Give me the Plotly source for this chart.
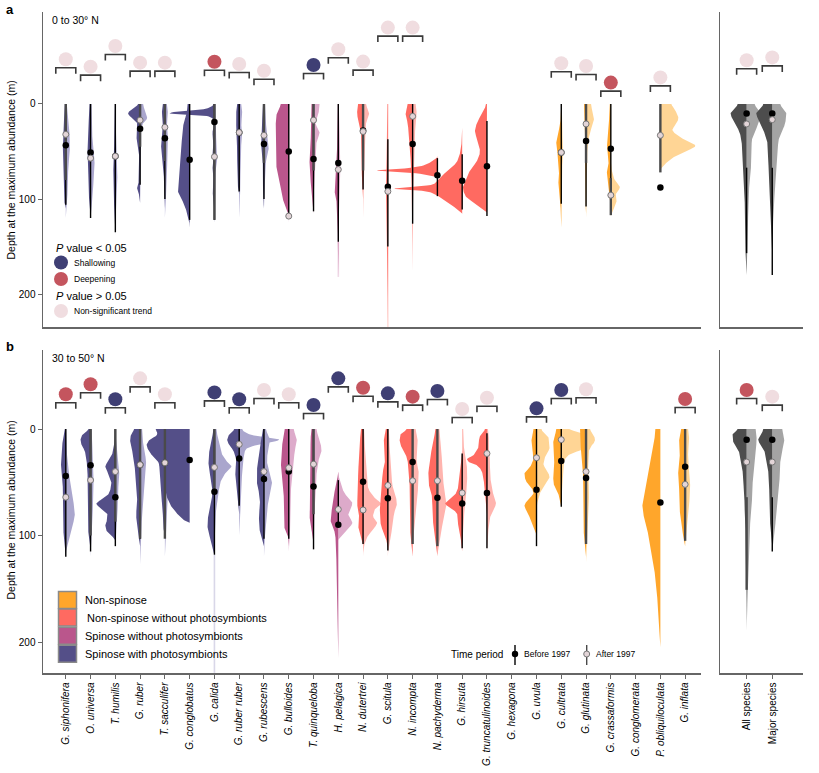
import numpy as np
import plotly.graph_objects as go

W, H = 819, 773
FONT = "Liberation Sans, Arial, sans-serif"

SPECIES = ["G. siphonifera", "O. universa", "T. humilis", "G. ruber", "T. sacculifer",
           "G. conglobatus", "G. calida", "G. ruber ruber", "G. rubescens", "G. bulloides",
           "T. quinqueloba", "H. pelagica", "N. dutertrei", "G. scitula", "N. incompta",
           "N. pachyderma", "G. hirsuta", "G. truncatulinoides", "G. hexagona", "G. uvula",
           "G. cultrata", "G. glutinata", "G. crassaformis", "G. conglomerata",
           "P. obliquiloculata", "G. inflata"]
GROUP = ["SP"] * 9 + ["SN"] * 3 + ["NN"] * 7 + ["NS"] * 7
SUMMARY = ["All species", "Major species"]

GROUP_NAMES = {"NS": "Non-spinose", "NN": "Non-spinose without photosymbionts",
               "SN": "Spinose without photosymbionts", "SP": "Spinose with photosymbionts"}
GROUP_COLORS = {"SP": ("#544F88", "#AAA6CD"), "SN": ("#BA568C", "#DDAACA"),
                "NN": ("#FF6A61", "#FFB4AE"), "NS": ("#FFA62B", "#FFD595"),
                "GR": ("#4D4D4D", "#A4A4A4")}
SIG_COLORS = {"S": "#3F3F74", "D": "#C4555E", "N": "#F0DDE0"}

# ---------------- panel a (0 to 30 N): half-violin profiles (depth m, density width) ----------
A_BEFORE = {
    "G. siphonifera": [(0, 1), (20, 2), (40, 3), (60, 2.5), (80, 2), (100, 2), (110, 0)],
    "O. universa": [(0, 1), (20, 2), (40, 3), (55, 3), (80, 2), (100, 1.5), (120, 0)],
    "T. humilis": [(0, 0.5), (40, 1), (60, 2), (80, 2), (100, 1.5), (135, 0)],
    "G. ruber": [(0, 2), (5, 8), (10, 12), (15, 8), (20, 3), (30, 4), (40, 3), (50, 1), (80, 1), (88, 3), (96, 1), (105, 0)],
    "T. sacculifer": [(0, 2), (10, 3), (20, 2), (30, 3), (40, 4), (60, 2), (80, 1), (100, 1), (110, 0)],
    "G. conglobatus": [(0, 2), (10, 3), (20, 6), (40, 8), (60, 9), (80, 11), (90, 12), (100, 8), (110, 4), (130, 0)],
    "G. calida": [(0, 1), (5, 8), (8, 38), (10, 45), (12, 10), (15, 2), (25, 1), (30, 2), (40, 1), (50, 2), (58, 1), (65, 2), (75, 1), (90, 2), (100, 1), (125, 0)],
    "G. ruber ruber": [(0, 2), (10, 3), (20, 3), (30, 3), (50, 2), (70, 2), (90, 1), (95, 0)],
    "G. rubescens": [(0, 1), (20, 2), (40, 3), (50, 2), (70, 1), (100, 1), (110, 0)],
    "G. bulloides": [(0, 8), (10, 12), (20, 13), (40, 13), (60, 13), (80, 9), (100, 6), (110, 2), (120, 0)],
    "T. quinqueloba": [(0, 2), (20, 2), (40, 3), (60, 4), (80, 3), (100, 1), (115, 0)],
    "H. pelagica": [(0, 0.5), (40, 1), (60, 2), (80, 3), (90, 4), (100, 2), (140, 0.5), (180, 0)],
    "N. dutertrei": [(0, 5), (10, 6), (20, 4), (30, 2), (50, 2), (80, 1), (100, 0)],
    "G. scitula": [(0, 0.5), (50, 1), (80, 2), (100, 1.5), (150, 1), (230, 0)],
    "N. incompta": [(0, 5), (10, 7), (20, 5), (30, 4), (40, 3), (50, 2), (70, 2), (80, 1), (100, 1), (130, 0.5), (175, 0)],
    "N. pachyderma": [(55, 0), (60, 5), (65, 15), (68, 35), (70, 61), (72, 30), (75, 8), (78, 0)],
    "G. hirsuta": [(25, 0), (45, 1), (55, 3), (62, 6), (70, 15), (78, 22), (85, 30), (89, 68), (92, 35), (97, 24), (103, 16), (110, 6), (116, 0)],
    "G. truncatulinoides": [(0, 1), (10, 5), (20, 10), (28, 12), (40, 9), (50, 7), (60, 10), (70, 17), (80, 21), (88, 24), (96, 22), (105, 12), (115, 0)],
    "G. cultrata": [(0, 0), (20, 1), (30, 3), (40, 5), (50, 4), (60, 3), (70, 2), (80, 3), (90, 2), (100, 1), (115, 0.5), (130, 0)],
    "G. glutinata": [(0, 2), (10, 2), (20, 2), (30, 1), (40, 1), (60, 1), (80, 1), (100, 1), (115, 0)],
    "G. crassaformis": [(0, 1), (20, 2), (40, 4), (50, 3), (60, 2), (70, 4), (80, 3), (90, 2), (100, 1), (110, 0)],
}
A_AFTER = {
    "G. siphonifera": [(0, 1), (20, 3), (40, 4), (50, 4), (60, 3), (80, 2), (100, 1.5), (120, 0)],
    "O. universa": [(0, 1), (40, 2), (60, 4), (80, 3), (100, 2), (120, 0)],
    "T. humilis": [(0, 0), (40, 1), (60, 2), (80, 2), (100, 1), (140, 0)],
    "G. ruber": [(0, 3), (10, 6), (15, 7), (20, 3), (30, 1), (50, 1), (100, 0)],
    "T. sacculifer": [(0, 2), (10, 3), (20, 2), (30, 3), (50, 3), (70, 2), (100, 1), (120, 0)],
    "G. calida": [(0, 1), (20, 1), (40, 2), (55, 3), (70, 1), (100, 1), (125, 0)],
    "G. ruber ruber": [(0, 2), (10, 3), (20, 2), (30, 3), (40, 2), (60, 2), (80, 1), (100, 1), (120, 0)],
    "G. rubescens": [(0, 1), (20, 2), (40, 4), (45, 5), (50, 4), (60, 2), (80, 1), (110, 0)],
    "G. bulloides": [(0, 0.5), (60, 1), (110, 1), (125, 0)],
    "T. quinqueloba": [(0, 6), (10, 5), (20, 2), (30, 6), (40, 3), (60, 2), (80, 1), (100, 0)],
    "H. pelagica": [(0, 0.5), (60, 2), (80, 2), (100, 1), (170, 0)],
    "N. dutertrei": [(0, 3), (10, 6), (20, 3), (40, 2), (60, 1), (100, 0.5), (120, 0)],
    "G. scitula": [(0, 0.5), (80, 1), (150, 0.5), (235, 0)],
    "N. incompta": [(0, 3), (10, 4), (20, 3), (40, 2), (80, 1), (120, 0)],
    "G. cultrata": [(0, 0.5), (30, 1), (50, 2), (60, 1), (80, 1), (100, 1), (130, 0)],
    "G. glutinata": [(0, 5), (10, 7), (15, 8), (20, 7), (30, 4), (40, 2), (60, 1), (80, 1), (100, 1), (120, 0)],
    "G. crassaformis": [(60, 0), (75, 2), (80, 4), (88, 9), (95, 5), (100, 6), (110, 3), (118, 0)],
    "P. obliquiloculata": [(0, 11), (5, 14), (15, 18), (22, 15), (27, 12), (35, 20), (44, 35), (50, 25), (55, 15), (62, 6), (70, 0)],
}
A_SUM_BEFORE = {
    "All species": [(0, 9), (10, 16), (20, 12), (30, 7), (40, 5), (60, 4), (80, 3), (100, 2), (140, 1.5), (160, 1), (180, 0)],
    "Major species": [(0, 9), (10, 16), (20, 12), (30, 8), (40, 5), (60, 4), (80, 3), (100, 2), (120, 1.5), (140, 0.5), (160, 0)],
}
A_SUM_AFTER = {
    "All species": [(0, 8), (10, 14), (20, 12), (30, 8), (40, 5), (60, 5), (70, 4), (80, 3), (100, 2), (140, 1), (180, 0)],
    "Major species": [(0, 8), (10, 14), (20, 13), (30, 9), (40, 6), (60, 5), (80, 4), (100, 2), (120, 1), (160, 0)],
}
A_MED_BEFORE = {"G. siphonifera": 43.5, "O. universa": 51, "T. humilis": 55, "G. ruber": 26, "T. sacculifer": 36,
                "G. conglobatus": 58.6, "G. calida": 19, "G. ruber ruber": 30, "G. rubescens": 42, "G. bulloides": 50,
                "T. quinqueloba": 58, "H. pelagica": 62, "N. dutertrei": 28, "G. scitula": 87, "N. incompta": 42,
                "N. pachyderma": 75, "G. hirsuta": 80.7, "G. truncatulinoides": 65.6, "G. cultrata": 51,
                "G. glutinata": 39, "G. crassaformis": 47, "P. obliquiloculata": 88,
                "All species": 10, "Major species": 10}
A_MED_AFTER = {"G. siphonifera": 32, "O. universa": 57, "T. humilis": 55, "G. ruber": 17, "T. sacculifer": 24.5,
               "G. calida": 55.5, "G. ruber ruber": 30, "G. rubescens": 33, "G. bulloides": 118,
               "T. quinqueloba": 17, "H. pelagica": 69, "N. dutertrei": 29, "G. scitula": 92, "N. incompta": 13,
               "G. cultrata": 51, "G. glutinata": 21, "G. crassaformis": 96, "P. obliquiloculata": 33,
               "All species": 21, "Major species": 16.5}
A_LINE_BEFORE = {"G. siphonifera": (0, 106), "O. universa": (0, 120), "T. humilis": (0, 135), "G. ruber": (0, 85),
                 "T. sacculifer": (0, 100), "G. conglobatus": (0, 122), "G. calida": (0, 122),
                 "G. ruber ruber": (0, 92), "G. rubescens": (0, 100), "G. bulloides": (0, 115),
                 "T. quinqueloba": (0, 113), "H. pelagica": (0, 145), "N. dutertrei": (0, 90),
                 "G. scitula": (37, 150), "N. incompta": (0, 126), "N. pachyderma": (57, 97),
                 "G. hirsuta": (53, 111), "G. truncatulinoides": (18, 118), "G. cultrata": (0, 105),
                 "G. glutinata": (0, 108), "G. crassaformis": (0, 80),
                 "All species": (67, 157), "Major species": (67, 180)}
A_LINE_AFTER = {"G. siphonifera": (0, 80), "G. ruber": (0, 45), "T. sacculifer": (0, 60), "G. calida": (0, 122),
                "G. rubescens": (0, 62), "T. quinqueloba": (0, 70), "N. dutertrei": (0, 70),
                "G. glutinata": (0, 62), "G. crassaformis": (78, 117), "P. obliquiloculata": (0, 72)}
A_TAIL = {"G. scitula": (150, 235), "H. pelagica": (145, 182)}
A_SIG = {"G. siphonifera": "N", "O. universa": "N", "T. humilis": "N", "G. ruber": "N", "T. sacculifer": "N",
         "G. calida": "D", "G. ruber ruber": "N", "G. rubescens": "N", "T. quinqueloba": "S", "H. pelagica": "N",
         "N. dutertrei": "N", "G. scitula": "N", "N. incompta": "N", "G. cultrata": "N", "G. glutinata": "N",
         "G. crassaformis": "D", "P. obliquiloculata": "N", "All species": "N", "Major species": "N"}
A_SIG_Y = {"G. siphonifera": -47, "O. universa": -39.3, "T. humilis": -61, "G. ruber": -43.5, "T. sacculifer": -43.5,
           "G. calida": -44.5, "G. ruber ruber": -42, "G. rubescens": -35, "T. quinqueloba": -41, "H. pelagica": -57.6,
           "N. dutertrei": -44.6, "G. scitula": -80.4, "N. incompta": -80.4, "G. cultrata": -42.8,
           "G. glutinata": -40, "G. crassaformis": -22.5, "P. obliquiloculata": -28,
           "All species": -46, "Major species": -49}

# ---------------- panel b (30 to 50 N) ----------------
B_BEFORE = {
    "G. siphonifera": [(0, 1), (10, 3), (20, 4), (30, 5), (40, 4), (50, 3), (60, 3), (80, 3), (90, 3), (100, 2), (110, 1), (120, 0)],
    "O. universa": [(0, 2), (5, 8), (10, 10), (15, 9), (20, 6), (30, 4), (40, 3), (60, 3), (80, 3), (100, 2), (115, 0)],
    "T. humilis": [(0, 0), (20, 2), (30, 7), (35, 10), (40, 8), (50, 4), (60, 6), (65, 12), (70, 19), (75, 14), (80, 8), (85, 8), (90, 10), (95, 9), (100, 4), (105, 0)],
    "G. ruber": [(0, 6), (5, 9), (10, 10), (20, 8), (30, 6), (40, 5), (50, 4), (60, 3), (70, 3), (80, 4), (90, 3), (100, 2), (110, 0)],
    "T. sacculifer": [(0, 6), (10, 10), (20, 8), (30, 6), (40, 5), (60, 4), (80, 2), (90, 2), (100, 0)],
    "G. conglobatus": [(0, 34), (5, 32), (10, 40), (15, 43), (22, 40), (30, 32), (40, 28), (50, 26), (60, 24), (70, 20), (80, 12), (86, 5), (88, 0)],
    "G. calida": [(0, 1), (10, 3), (20, 5), (30, 6), (40, 5), (50, 3), (60, 2), (70, 4), (80, 6), (90, 7), (100, 5), (110, 2), (120, 0)],
    "G. ruber ruber": [(0, 5), (5, 10), (10, 12), (15, 10), (20, 6), (30, 3), (40, 4), (50, 3), (60, 2), (70, 1), (80, 0)],
    "G. rubescens": [(0, 1), (10, 3), (20, 4), (30, 6), (40, 7), (50, 7), (60, 5), (70, 4), (80, 5), (90, 5), (100, 3), (110, 0)],
    "G. bulloides": [(0, 4), (10, 6), (20, 7), (30, 8), (40, 7), (50, 6), (60, 5), (70, 5), (80, 5), (90, 5), (100, 1), (110, 0)],
    "T. quinqueloba": [(0, 2), (10, 3), (20, 3), (30, 3), (40, 3), (50, 3), (60, 3), (70, 3), (80, 4), (90, 3), (100, 1), (110, 0)],
    "H. pelagica": [(40, 0), (50, 2), (60, 4), (70, 6), (80, 7), (85, 8), (90, 6), (100, 3), (120, 2), (150, 1.5), (180, 1), (215, 0)],
    "N. dutertrei": [(0, 2), (10, 3), (20, 3), (30, 4), (40, 5), (50, 5), (60, 5), (70, 6), (80, 4), (90, 5), (100, 2), (110, 0)],
    "G. scitula": [(0, 2), (10, 4), (20, 3), (30, 3), (40, 5), (50, 6), (60, 7), (70, 8), (80, 8), (90, 7), (100, 3), (112, 0)],
    "N. incompta": [(0, 6), (5, 12), (10, 13), (15, 12), (20, 9), (30, 5), (40, 4), (50, 3), (70, 3), (90, 3), (100, 2), (110, 1), (120, 0)],
    "N. pachyderma": [(0, 2), (10, 4), (20, 6), (30, 7), (40, 9), (50, 9), (60, 6), (70, 5), (80, 5), (90, 4), (100, 2), (110, 1), (120, 0)],
    "G. hirsuta": [(20, 0), (30, 1), (40, 2), (50, 3), (60, 6), (65, 12), (70, 17), (75, 10), (80, 5), (90, 4), (100, 2), (115, 0)],
    "G. truncatulinoides": [(0, 2), (5, 6), (10, 8), (15, 8), (20, 10), (25, 14), (28, 20), (31, 18), (34, 10), (40, 5), (50, 3), (60, 2), (70, 1), (80, 0)],
    "G. uvula": [(0, 3), (10, 5), (20, 4), (27, 3), (35, 6), (42, 12), (48, 11), (55, 5), (60, 3), (66, 8), (72, 12), (80, 8), (88, 5), (95, 2), (100, 0)],
    "G. cultrata": [(0, 5), (12, 8), (20, 7), (30, 7), (40, 8), (50, 8), (58, 4), (64, 2), (75, 0)],
    "G. glutinata": [(0, 6), (10, 6), (20, 5), (30, 4), (40, 3), (60, 3), (80, 3), (90, 3), (100, 2), (110, 1), (120, 0)],
    "P. obliquiloculata": [(0, 5), (10, 6), (20, 8), (30, 10), (40, 12), (50, 14), (60, 16), (70, 18), (80, 17), (90, 14), (100, 12), (120, 8), (140, 5), (160, 3), (180, 2), (200, 0.5), (205, 0)],
    "G. inflata": [(0, 4), (10, 6), (20, 5), (30, 6), (40, 7), (50, 6), (60, 6), (70, 6), (80, 5), (90, 4), (100, 2), (110, 0)],
}
B_AFTER = {
    "G. siphonifera": [(0, 0.5), (20, 1), (40, 3), (60, 6), (80, 9), (90, 7), (100, 4), (110, 1), (120, 0)],
    "O. universa": [(0, 1), (20, 2), (40, 3), (60, 3), (80, 2), (100, 1), (120, 0)],
    "T. humilis": [(0, 0), (20, 2), (40, 4), (50, 3), (60, 3), (80, 2), (100, 1), (110, 0)],
    "G. ruber": [(0, 2), (20, 4), (30, 6), (40, 5), (50, 4), (60, 3), (80, 2), (100, 1), (130, 0)],
    "T. sacculifer": [(0, 6), (5, 8), (10, 5), (20, 4), (30, 4), (40, 4), (60, 3), (80, 2), (100, 1), (120, 0)],
    "G. calida": [(0, 2), (10, 4), (20, 6), (30, 12), (35, 17), (40, 12), (50, 6), (60, 4), (70, 2), (90, 1), (110, 0)],
    "G. ruber ruber": [(0, 3), (5, 10), (10, 40), (13, 30), (17, 10), (20, 6), (30, 4), (40, 3), (60, 2), (80, 1), (100, 0)],
    "G. rubescens": [(0, 2), (10, 6), (20, 4), (30, 3), (40, 6), (50, 8), (60, 6), (70, 4), (80, 3), (90, 2), (100, 1), (120, 0)],
    "G. bulloides": [(0, 5), (10, 8), (20, 6), (30, 5), (40, 4), (50, 3), (60, 2), (80, 2), (100, 1), (115, 0)],
    "T. quinqueloba": [(0, 3), (10, 6), (20, 8), (25, 6), (30, 5), (40, 3), (50, 3), (60, 2), (80, 1), (100, 1), (110, 0)],
    "H. pelagica": [(40, 0), (50, 2), (60, 6), (70, 14), (75, 12), (80, 10), (88, 14), (95, 8), (100, 3), (105, 0)],
    "N. dutertrei": [(0, 1), (20, 2), (40, 3), (55, 5), (65, 12), (70, 18), (75, 12), (82, 10), (88, 14), (92, 12), (100, 5), (110, 1), (120, 0)],
    "G. scitula": [(0, 1), (20, 2), (40, 4), (50, 4), (60, 7), (70, 9), (80, 6), (90, 5), (100, 3), (110, 1), (120, 0)],
    "N. incompta": [(0, 3), (10, 5), (20, 4), (30, 4), (40, 6), (50, 6), (60, 5), (70, 4), (80, 3), (90, 2), (100, 1), (115, 0)],
    "N. pachyderma": [(0, 2), (20, 4), (40, 5), (50, 6), (60, 7), (70, 9), (80, 7), (90, 5), (100, 3), (110, 1), (120, 0)],
    "G. hirsuta": [(0, 1), (20, 2), (30, 4), (40, 5), (50, 5), (60, 4), (70, 3), (80, 2), (100, 1), (110, 0)],
    "G. truncatulinoides": [(0, 1), (10, 2), (20, 2), (30, 3), (40, 3), (50, 4), (60, 6), (65, 8), (70, 9), (75, 7), (80, 4), (90, 2), (100, 1), (115, 0)],
    "G. uvula": [(0, 5), (8, 12), (18, 13), (25, 9), (33, 7), (40, 11), (45, 13), (50, 10), (57, 5), (65, 2), (75, 0)],
    "G. cultrata": [(0, 8), (3, 18), (12, 33), (18, 25), (24, 8), (30, 3), (40, 2), (55, 1), (70, 0)],
    "G. glutinata": [(0, 4), (5, 7), (10, 9), (15, 6), (20, 3), (40, 2), (60, 3), (80, 2), (100, 1), (125, 0)],
    "G. inflata": [(0, 3), (10, 4), (20, 3), (30, 3), (40, 4), (50, 5), (60, 5), (70, 4), (80, 3), (90, 2), (100, 1), (110, 0)],
}
B_SUM_BEFORE = {
    "All species": [(0, 9), (5, 14), (10, 14), (20, 8), (30, 6), (40, 4), (50, 3), (60, 3), (70, 2), (80, 2), (100, 1), (140, 1), (150, 0.5), (180, 0)],
    "Major species": [(0, 9), (10, 14), (20, 8), (30, 6), (40, 4), (60, 3), (80, 3), (90, 2), (100, 1), (110, 0)],
}
B_SUM_AFTER = {
    "All species": [(0, 9), (10, 10), (20, 9), (30, 8), (40, 7), (50, 6), (60, 6), (70, 5), (80, 4), (100, 3), (120, 2), (140, 1), (180, 0.5), (190, 0)],
    "Major species": [(0, 10), (10, 12), (20, 10), (30, 8), (40, 8), (50, 7), (60, 6), (80, 4), (100, 2), (110, 0.5), (115, 0)],
}
B_MED_BEFORE = {"G. siphonifera": 44, "O. universa": 34, "T. humilis": 64, "G. ruber": 33.5, "T. sacculifer": 31.7,
                "G. conglobatus": 29, "G. calida": 59, "G. ruber ruber": 27.6, "G. rubescens": 47, "G. bulloides": 40,
                "T. quinqueloba": 54, "H. pelagica": 90, "N. dutertrei": 49.5, "G. scitula": 65, "N. incompta": 31,
                "N. pachyderma": 64.5, "G. hirsuta": 70, "G. truncatulinoides": 60, "G. uvula": 57, "G. cultrata": 30,
                "G. glutinata": 46, "P. obliquiloculata": 69, "G. inflata": 35.4,
                "All species": 10, "Major species": 10}
B_MED_AFTER = {"G. siphonifera": 64, "O. universa": 48, "T. humilis": 40, "G. ruber": 33.5, "T. sacculifer": 31.7,
               "G. calida": 36, "G. ruber ruber": 14.4, "G. rubescens": 40, "G. bulloides": 36.4,
               "T. quinqueloba": 33, "H. pelagica": 75.5, "N. dutertrei": 76, "G. scitula": 53, "N. incompta": 48.6,
               "N. pachyderma": 48.6, "G. hirsuta": 60, "G. truncatulinoides": 23, "G. uvula": 27, "G. cultrata": 10,
               "G. glutinata": 40, "G. inflata": 52, "All species": 31, "Major species": 31}
B_LINE_BEFORE = {"G. siphonifera": (0, 120), "O. universa": (0, 115), "T. humilis": (0, 110), "G. ruber": (0, 103),
                 "G. calida": (0, 118), "G. ruber ruber": (0, 72), "G. rubescens": (0, 103),
                 "G. bulloides": (0, 103), "T. quinqueloba": (0, 113), "H. pelagica": (48, 90),
                 "N. dutertrei": (0, 108), "G. scitula": (0, 114), "G. hirsuta": (23, 112),
                 "G. truncatulinoides": (4, 112), "G. uvula": (0, 110), "G. cultrata": (0, 73),
                 "Major species": (64, 115)}
B_LINE_AFTER = {"O. universa": (0, 100), "T. humilis": (0, 87), "G. ruber": (0, 103), "T. sacculifer": (0, 103),
                "G. calida": (0, 57), "T. quinqueloba": (0, 80), "N. incompta": (0, 108),
                "N. pachyderma": (0, 110), "G. glutinata": (0, 108), "G. inflata": (0, 105),
                "All species": (64, 151)}
B_TAIL = {"G. calida": (118, 229)}
B_SIG = {"G. siphonifera": "D", "O. universa": "D", "T. humilis": "S", "G. ruber": "N", "T. sacculifer": "N",
         "G. calida": "S", "G. ruber ruber": "S", "G. rubescens": "N", "G. bulloides": "N", "T. quinqueloba": "S",
         "H. pelagica": "S", "N. dutertrei": "D", "G. scitula": "S", "N. incompta": "D", "N. pachyderma": "S",
         "G. hirsuta": "N", "G. truncatulinoides": "N", "G. uvula": "S", "G. cultrata": "S", "G. glutinata": "N",
         "G. inflata": "D", "All species": "D", "Major species": "N"}
B_SIG_Y = {"G. siphonifera": -32.6, "O. universa": -42, "T. humilis": -28, "G. ruber": -47.6, "T. sacculifer": -32.6,
           "G. calida": -34.4, "G. ruber ruber": -28, "G. rubescens": -36.6, "G. bulloides": -32.6,
           "T. quinqueloba": -22.5, "H. pelagica": -47.6, "N. dutertrei": -38.8, "G. scitula": -33.5,
           "N. incompta": -30.4, "N. pachyderma": -35.7, "G. hirsuta": -18.8, "G. truncatulinoides": -29.4,
           "G. uvula": -19.4, "G. cultrata": -36.6, "G. glutinata": -37.3, "G. inflata": -28.2,
           "All species": -36.6, "Major species": -30.4}

# ---------------- layout geometry (window pixels) ----------------
LEFT_X = (43, 701)
RIGHT_X = (720, 803)
TOP_Y = (12, 327)
BOT_Y = (350, 673)
LEFT_RANGE = (-0.92, 25.64)
RIGHT_RANGE = (-1.04, 2.2)
TOP_RANGE = (234.7, -96.8)
BOT_RANGE = (229.1, -74.2)


def px(x):
    return x / W


def py(y):
    return 1 - y / H


def pchip(xk, yk, xn):
    xk = np.asarray(xk, float)
    yk = np.asarray(yk, float)
    n = len(xk)
    h = np.diff(xk)
    delta = np.diff(yk) / h
    m = np.zeros(n)
    for k in range(1, n - 1):
        if delta[k - 1] * delta[k] > 0:
            w1 = 2 * h[k] + h[k - 1]
            w2 = h[k] + 2 * h[k - 1]
            m[k] = (w1 + w2) / (w1 / delta[k - 1] + w2 / delta[k])
    idx = np.clip(np.searchsorted(xk, xn, side="right") - 1, 0, n - 2)
    t = (xn - xk[idx]) / h[idx]
    h00 = 2 * t ** 3 - 3 * t ** 2 + 1
    h10 = t ** 3 - 2 * t ** 2 + t
    h01 = -2 * t ** 3 + 3 * t ** 2
    h11 = t ** 3 - t ** 2
    return (h00 * yk[idx] + h10 * h[idx] * m[idx] + h01 * yk[idx + 1] + h11 * h[idx] * m[idx + 1])


fig = go.Figure()

AX = {
    "TL": ("x", "y", LEFT_X, LEFT_RANGE),
    "TR": ("x2", "y2", RIGHT_X, RIGHT_RANGE),
    "BL": ("x3", "y3", LEFT_X, LEFT_RANGE),
    "BR": ("x4", "y4", RIGHT_X, RIGHT_RANGE),
}


def unit_of(key):
    _, _, xp, xr = AX[key]
    return (xr[1] - xr[0]) / (xp[1] - xp[0])


def add_half(key, center, prof, side, color):
    xa, ya, _, _ = AX[key]
    u = unit_of(key)
    d = np.array([p[0] for p in prof], float)
    w = np.array([p[1] for p in prof], float)
    dn = np.linspace(d[0], d[-1], max(int((d[-1] - d[0]) * 2), 4))
    wn = np.clip(pchip(d, w, dn), 0, None)
    xs = list(center + side * wn * u) + [center, center]
    ys = list(dn) + [dn[-1], dn[0]]
    fig.add_trace(go.Scatter(x=xs, y=ys, mode="lines", fill="toself", fillcolor=color,
                             line=dict(width=0, color=color), xaxis=xa, yaxis=ya,
                             hoverinfo="skip", showlegend=False))


def draw_panel(key, names, before, after, colkeys, tails):
    xa, ya, _, _ = AX[key]
    for i, nm in enumerate(names):
        if nm in tails:
            fig.add_trace(go.Scatter(x=[i, i], y=list(tails[nm]), mode="lines",
                                     line=dict(color=GROUP_COLORS[colkeys[i]][1], width=1.6), opacity=0.45,
                                     xaxis=xa, yaxis=ya, hoverinfo="skip", showlegend=False))
    for i, nm in enumerate(names):
        if nm in after:
            add_half(key, i, after[nm], 1, GROUP_COLORS[colkeys[i]][1])
    for i, nm in enumerate(names):
        if nm in before:
            add_half(key, i, before[nm], -1, GROUP_COLORS[colkeys[i]][0])


def draw_lines_meds(key, names, lb, la, mb, ma, sig, sigy, pxm):
    xa, ya, _, _ = AX[key]
    u = unit_of(key)
    for i, nm in enumerate(names):
        if nm in lb:
            fig.add_trace(go.Scatter(x=[i, i], y=list(lb[nm]), mode="lines", line=dict(color="black", width=1.4),
                                     xaxis=xa, yaxis=ya, hoverinfo="skip", showlegend=False))
        if nm in la:
            fig.add_trace(go.Scatter(x=[i, i], y=list(la[nm]), mode="lines", line=dict(color="#4A4A4A", width=2.4),
                                     xaxis=xa, yaxis=ya, hoverinfo="skip", showlegend=False))
    xb = [i for i, nm in enumerate(names) if nm in mb]
    fig.add_trace(go.Scatter(x=xb, y=[mb[names[i]] for i in xb], mode="markers",
                             marker=dict(color="black", size=6.5), xaxis=xa, yaxis=ya,
                             hoverinfo="skip", showlegend=False))
    xaa = [i for i, nm in enumerate(names) if nm in ma]
    fig.add_trace(go.Scatter(x=xaa, y=[ma[names[i]] for i in xaa], mode="markers",
                             marker=dict(color="#E3D5D8", size=6, line=dict(color="#777777", width=1)),
                             xaxis=xa, yaxis=ya, hoverinfo="skip", showlegend=False))
    bx, by = [], []
    half_w = 10 * u
    for i, nm in enumerate(names):
        if nm in sig:
            top = sigy[nm] + 8.5 / pxm
            leg = 6 / pxm
            bx += [i - half_w, i - half_w, i + half_w, i + half_w, None]
            by += [top + leg, top, top, top + leg, None]
    fig.add_trace(go.Scatter(x=bx, y=by, mode="lines", line=dict(color="#3A3A3A", width=1.6),
                             xaxis=xa, yaxis=ya, hoverinfo="skip", showlegend=False))
    for code in ["S", "D", "N"]:
        xi = [i for i, nm in enumerate(names) if sig.get(nm) == code]
        fig.add_trace(go.Scatter(x=xi, y=[sigy[names[i]] for i in xi], mode="markers",
                                 marker=dict(color=SIG_COLORS[code], size=14), xaxis=xa, yaxis=ya,
                                 hoverinfo="skip", showlegend=False))


TOP_PXM = (TOP_Y[1] - TOP_Y[0]) / (TOP_RANGE[0] - TOP_RANGE[1])
BOT_PXM = (BOT_Y[1] - BOT_Y[0]) / (BOT_RANGE[0] - BOT_RANGE[1])

draw_panel("TL", SPECIES, A_BEFORE, A_AFTER, GROUP, A_TAIL)
draw_lines_meds("TL", SPECIES, A_LINE_BEFORE, A_LINE_AFTER, A_MED_BEFORE, A_MED_AFTER, A_SIG, A_SIG_Y, TOP_PXM)
draw_panel("TR", SUMMARY, A_SUM_BEFORE, A_SUM_AFTER, ["GR", "GR"], {})
draw_lines_meds("TR", SUMMARY, A_LINE_BEFORE, A_LINE_AFTER, A_MED_BEFORE, A_MED_AFTER, A_SIG, A_SIG_Y, TOP_PXM)
draw_panel("BL", SPECIES, B_BEFORE, B_AFTER, GROUP, B_TAIL)
draw_lines_meds("BL", SPECIES, B_LINE_BEFORE, B_LINE_AFTER, B_MED_BEFORE, B_MED_AFTER, B_SIG, B_SIG_Y, BOT_PXM)
draw_panel("BR", SUMMARY, B_SUM_BEFORE, B_SUM_AFTER, ["GR", "GR"], {})
draw_lines_meds("BR", SUMMARY, B_LINE_BEFORE, B_LINE_AFTER, B_MED_BEFORE, B_MED_AFTER, B_SIG, B_SIG_Y, BOT_PXM)

axline = dict(showline=True, linecolor="#666666", linewidth=1.5, showgrid=False, zeroline=False)
tickfont = dict(family=FONT, size=10, color="black")


def xdom(p):
    return [px(p[0]), px(p[1])]


def ydom(p):
    return [py(p[1]), py(p[0])]


fig.update_layout(
    width=W, height=H, margin=dict(l=0, r=0, t=0, b=0),
    paper_bgcolor="white", plot_bgcolor="white", font=dict(family=FONT, size=10, color="black"),
    showlegend=False, hovermode=False,
    xaxis=dict(domain=xdom(LEFT_X), range=list(LEFT_RANGE), anchor="y", showticklabels=False, ticks="", **axline),
    yaxis=dict(domain=ydom(TOP_Y), range=list(TOP_RANGE), anchor="x", tickvals=[0, 100, 200], ticks="outside",
               ticklen=4, tickcolor="#666666", tickfont=tickfont, **axline),
    xaxis2=dict(domain=xdom(RIGHT_X), range=list(RIGHT_RANGE), anchor="y2", showticklabels=False, ticks="", **axline),
    yaxis2=dict(domain=ydom(TOP_Y), range=list(TOP_RANGE), anchor="x2", showticklabels=False, ticks="", **axline),
    xaxis3=dict(domain=xdom(LEFT_X), range=list(LEFT_RANGE), anchor="y3", tickvals=list(range(len(SPECIES))),
                ticktext=["<i>%s</i>" % s for s in SPECIES], tickangle=-90, ticks="outside", ticklen=4,
                tickcolor="#666666", tickfont=tickfont, **axline),
    yaxis3=dict(domain=ydom(BOT_Y), range=list(BOT_RANGE), anchor="x3", tickvals=[0, 100, 200], ticks="outside",
                ticklen=4, tickcolor="#666666", tickfont=tickfont, **axline),
    xaxis4=dict(domain=xdom(RIGHT_X), range=list(RIGHT_RANGE), anchor="y4", tickvals=[0, 1], ticktext=SUMMARY,
                tickangle=-90, ticks="outside", ticklen=4, tickcolor="#666666", tickfont=tickfont, **axline),
    yaxis4=dict(domain=ydom(BOT_Y), range=list(BOT_RANGE), anchor="x4", showticklabels=False, ticks="", **axline),
)

ann = []
shapes = []


def text(x, y, s, size=10, xanchor="left", angle=0, bold=False):
    ann.append(dict(x=px(x), y=py(y), xref="paper", yref="paper", text=("<b>%s</b>" % s) if bold else s,
                    showarrow=False, xanchor=xanchor, yanchor="middle", textangle=angle,
                    font=dict(family=FONT, size=size, color="black")))


def circle(x, y, r, color, line=None):
    shapes.append(dict(type="circle", xref="paper", yref="paper", x0=px(x - r), x1=px(x + r),
                       y0=py(y + r), y1=py(y - r), fillcolor=color,
                       line=dict(width=1 if line else 0, color=line or color)))


text(4, 10, "a", 13, bold=True)
text(4, 346, "b", 13, bold=True)
text(50, 20, "0 to 30° N", 10.5)
text(50, 358, "30 to 50° N", 10.5)
text(10.5, 170, "Depth at the maximum abundance (m)", 10.5, xanchor="center", angle=-90)
text(10.5, 510, "Depth at the maximum abundance (m)", 10.5, xanchor="center", angle=-90)

text(54, 248, "<i>P</i> value < 0.05", 11)
circle(61, 262.5, 7, SIG_COLORS["S"])
text(72, 262.5, "Shallowing", 8.5)
circle(61, 279, 7, SIG_COLORS["D"])
text(72, 279, "Deepening", 8.5)
text(54, 296, "<i>P</i> value > 0.05", 11)
circle(61, 311, 7, SIG_COLORS["N"])
text(72, 311, "Non-significant trend", 8.5)

for code, yc in [("NS", 600), ("NN", 617.5), ("SN", 635.8), ("SP", 653.8)]:
    shapes.append(dict(type="rect", xref="paper", yref="paper", x0=px(58.5), x1=px(76.5),
                       y0=py(yc + 8.5), y1=py(yc - 8.5), fillcolor=GROUP_COLORS[code][0],
                       line=dict(color="#8A8A8A", width=1.5)))
    text(83 if code != "NN" else 84.5, yc, GROUP_NAMES[code], 11)

text(505, 654, "Time period", 10, xanchor="right")
shapes.append(dict(type="line", xref="paper", yref="paper", x0=px(515), x1=px(515), y0=py(645), y1=py(665),
                   line=dict(color="black", width=1.4)))
circle(515, 654, 3.2, "black")
text(522, 654, "Before 1997", 8.5)
shapes.append(dict(type="line", xref="paper", yref="paper", x0=px(586.7), x1=px(586.7), y0=py(645), y1=py(665),
                   line=dict(color="#4A4A4A", width=1.4)))
circle(586.7, 654, 3, "#E3D5D8", "#777777")
text(594, 654, "After 1997", 8.5)

fig.update_layout(annotations=ann, shapes=shapes)
fig.write_html("out.html", config={"displayModeBar": False, "staticPlot": True},
               post_script="document.body.style.margin='0px';document.body.style.overflow='hidden';")
